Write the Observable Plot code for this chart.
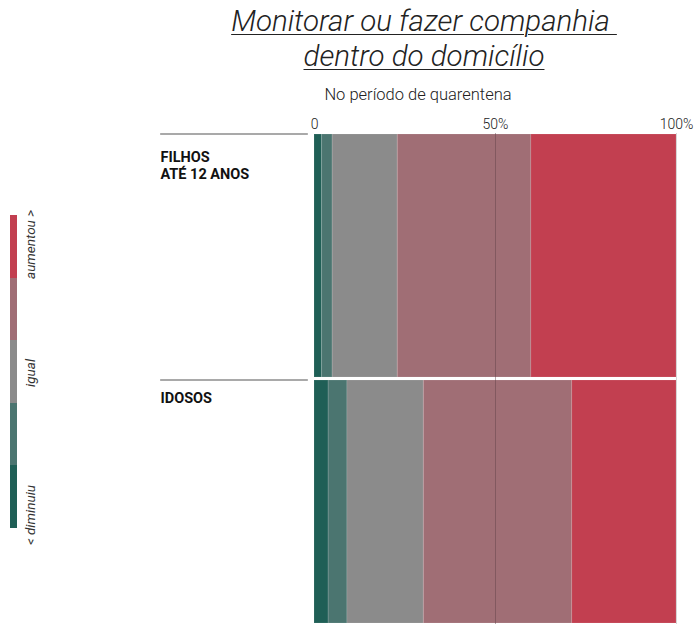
<!DOCTYPE html>
<html>
<head>
<meta charset="utf-8">
<script src="https://cdn.jsdelivr.net/npm/d3@7"></script>
<script src="https://cdn.jsdelivr.net/npm/@observablehq/plot@0.6"></script>
<style>
  html, body { margin: 0; padding: 0; background: #fff; }
  #wrap { position: relative; width: 697px; height: 624px; overflow: hidden; font-family: Roboto, "Open Sans", sans-serif; }
  #title { position: absolute; left: 150px; width: 548px; top: 4px; text-align: center; font-size: 29.5px; font-weight: 300; font-style: italic; line-height: 35px; color: #222; text-decoration: underline; text-decoration-thickness: 1px; text-underline-offset: 3px; white-space: pre; }
  #subtitle { position: absolute; left: 150px; width: 536px; top: 85px; text-align: center; font-size: 16.5px; font-weight: 300; color: #222; }
  #chart { position: absolute; left: 0; top: 110px; }
  #legend { position: absolute; left: 10px; top: 215px; width: 7px; }
  #legend .sw { width: 7px; }
  .ll { position: absolute; font-size: 13.5px; font-style: italic; font-weight: 400; color: #333; white-space: nowrap; transform-origin: 0 0; transform: rotate(-90deg); }
</style>
</head>
<body>
<div id="wrap">
  <div id="title"></div>
  <div id="subtitle"></div>
  <div id="legend"></div>
  <div id="chart"></div>
</div>
<script>
const titleLines = ["Monitorar ou fazer companhia ", "dentro do domicílio"];
const subtitle = "No período de quarentena";
const categories = ["FILHOS\nATÉ 12 ANOS", "IDOSOS"];
const responses = ["diminuiu muito", "diminuiu um pouco", "igual", "aumentou um pouco", "aumentou muito"];
const filhosValues = [2.1, 2.9, 18.0, 36.9, 40.1];
const idososValues = [3.9, 5.2, 21.1, 41.0, 28.8];
const colors = ["#1f5f56", "#4b7570", "#8b8b8b", "#a06e75", "#c23f50"];
const tickValues = [0, 50, 100];
const tickLabels = ["0", "50%", "100%"];
const legendLabels = ["< diminuiu", "igual", "aumentou >"];

document.getElementById("title").textContent = titleLines.join("\n");
document.getElementById("subtitle").textContent = subtitle;

const seriesByCategory = [filhosValues, idososValues];
const table = [];
categories.forEach((c, ci) => {
  responses.forEach((r, ri) => table.push({category: c, response: r, value: seriesByCategory[ci][ri]}));
});

const bandHalf = 122;
const labelStyle = {y: d => d, text: d => d, frameAnchor: "left", textAnchor: "start", lineAnchor: "top", dx: -154, fontSize: 14.5, fontWeight: 700, fill: "#111", lineHeight: 1.17};

const chart = Plot.plot({
  width: 697,
  height: 514,
  marginTop: 23,
  marginBottom: 0,
  marginLeft: 314,
  marginRight: 21,
  style: {fontFamily: "Roboto, sans-serif", background: "transparent"},
  x: {domain: [0, 100], axis: null},
  y: {domain: categories, axis: null, paddingInner: 0.012, paddingOuter: 0},
  color: {domain: responses, range: colors},
  marks: [
    Plot.barX(table, {x: "value", y: "category", fill: "response", stroke: "#fff", strokeOpacity: 0.12, strokeWidth: 1}),
    Plot.ruleX([50], {stroke: "#5e3f45", strokeOpacity: 0.45, strokeWidth: 1}),
    Plot.ruleX([100], {stroke: "#bbb", strokeOpacity: 0.6, strokeWidth: 1}),
    Plot.axisX({anchor: "top", ticks: tickValues, tickFormat: (d) => tickLabels[tickValues.indexOf(d)], tickSize: 0, tickPadding: 5, fontSize: 14, fontWeight: 300, fill: "#222", label: null}),
    Plot.text(categories.slice(0, 1), {...labelStyle, dy: -bandHalf + 16}),
    Plot.text(categories.slice(1), {...labelStyle, dy: -bandHalf + 11}),
    Plot.ruleY(categories, {y: d => d, x1: -42.5, x2: -1.7, stroke: "#555", strokeWidth: 1.2, dy: -bandHalf})
  ]
});
document.getElementById("chart").appendChild(chart);

// legend (5 colour swatches, three labels)
const legend = document.getElementById("legend");
const swH = 313 / colors.length;
colors.slice().reverse().forEach(c => {
  const d = document.createElement("div");
  d.className = "sw";
  d.style.height = swH + "px";
  d.style.background = c;
  legend.appendChild(d);
});
const wrap = document.getElementById("wrap");
const legendPos = [{top: 545, anchor: "start"}, {top: 373, anchor: "middle"}, {top: 279, anchor: "start"}];
legendLabels.forEach((t, i) => {
  const s = document.createElement("div");
  s.className = "ll";
  s.textContent = t;
  wrap.appendChild(s);
  const w = s.getBoundingClientRect().height; // rotated: height = text length
  let top = legendPos[i].top;
  if (legendPos[i].anchor === "middle") top = top + w / 2;
  s.style.left = "22px";
  s.style.top = top + "px";
});
</script>
</body>
</html>
